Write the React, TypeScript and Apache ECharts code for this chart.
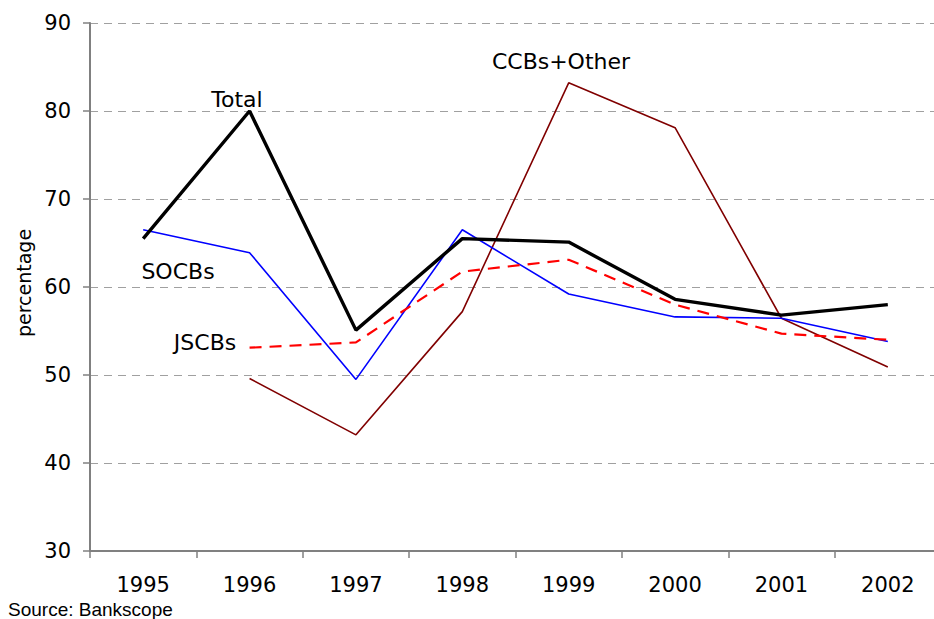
import React, { useEffect, useRef } from "react";
import * as echarts from "echarts";

const years = ["1995", "1996", "1997", "1998", "1999", "2000", "2001", "2002"];
const total = [65.5, 80.0, 55.1, 65.5, 65.1, 58.6, 56.8, 58.0];
const socbs = [66.5, 63.9, 49.5, 66.5, 59.2, 56.6, 56.45, 53.8];
const jscbs = [null, 53.1, 53.7, 61.75, 63.1, 58.0, 54.7, 54.0];
const ccbs = [null, 49.6, 43.2, 57.2, 83.2, 78.1, 56.45, 50.9];

const FONT = "DejaVu Sans";

export default function App() {
  const ref = useRef<HTMLDivElement>(null);
  useEffect(() => {
    if (!ref.current) return;
    const chart = echarts.init(ref.current, null, { renderer: "svg" });
    const labelStyle = { fontFamily: FONT, fontSize: 22, fill: "#000" };
    chart.setOption({
      animation: false,
      backgroundColor: "#fff",
      grid: { left: 90, right: 1, top: 23, bottom: 68, containLabel: false },
      xAxis: {
        type: "category",
        data: years,
        boundaryGap: true,
        axisLine: { show: true, lineStyle: { color: "#808080", width: 2 } },
        axisTick: { show: true, length: 7, lineStyle: { color: "#808080", width: 1.5 } },
        axisLabel: { color: "#000", fontFamily: FONT, fontSize: 21, margin: 23 },
        splitLine: { show: false },
      },
      yAxis: {
        type: "value",
        min: 30,
        max: 90,
        interval: 10,
        axisLine: { show: true, lineStyle: { color: "#808080", width: 2 } },
        axisTick: { show: true, length: 7, lineStyle: { color: "#808080", width: 1.5 } },
        axisLabel: { color: "#000", fontFamily: FONT, fontSize: 21, margin: 19 },
        splitLine: { show: true, lineStyle: { color: "#a0a0a0", type: [8, 6], width: 1 } },
      },
      series: [
        {
          name: "CCBs+Other",
          type: "line",
          data: ccbs,
          symbol: "none",
          connectNulls: false,
          lineStyle: { color: "#800000", width: 1.6 },
          z: 2,
        },
        {
          name: "SOCBs",
          type: "line",
          data: socbs,
          symbol: "none",
          lineStyle: { color: "#0000ff", width: 1.6 },
          z: 3,
        },
        {
          name: "JSCBs",
          type: "line",
          data: jscbs,
          symbol: "none",
          connectNulls: false,
          lineStyle: { color: "#ff0000", width: 2.2, type: [12, 8] },
          z: 4,
        },
        {
          name: "Total",
          type: "line",
          data: total,
          symbol: "none",
          lineStyle: { color: "#000000", width: 3.4 },
          z: 5,
        },
      ],
      graphic: [
        { type: "text", x: 237, y: 99, style: { ...labelStyle, text: "Total", align: "center", verticalAlign: "middle" } },
        { type: "text", x: 178, y: 271, style: { ...labelStyle, text: "SOCBs", align: "center", verticalAlign: "middle" } },
        { type: "text", x: 205, y: 342, style: { ...labelStyle, text: "JSCBs", align: "center", verticalAlign: "middle" } },
        { type: "text", x: 561, y: 61, style: { ...labelStyle, text: "CCBs+Other", align: "center", verticalAlign: "middle" } },
        {
          type: "text",
          x: 24,
          y: 283,
          rotation: Math.PI / 2,
          style: { fontFamily: FONT, fontSize: 19, fill: "#000", text: "percentage", align: "center", verticalAlign: "middle" },
        },
        {
          type: "text",
          x: 8,
          y: 609,
          style: { fontFamily: "Liberation Sans", fontSize: 19, fill: "#000", text: "Source: Bankscope", align: "left", verticalAlign: "middle" },
        },
      ],
    });
    return () => chart.dispose();
  }, []);
  return (
    <div style={{ position: "fixed", left: 0, top: 0, width: 934, height: 619, overflow: "hidden", background: "#fff" }}>
      <div ref={ref} style={{ width: 942, height: 619 }} />
    </div>
  );
}
